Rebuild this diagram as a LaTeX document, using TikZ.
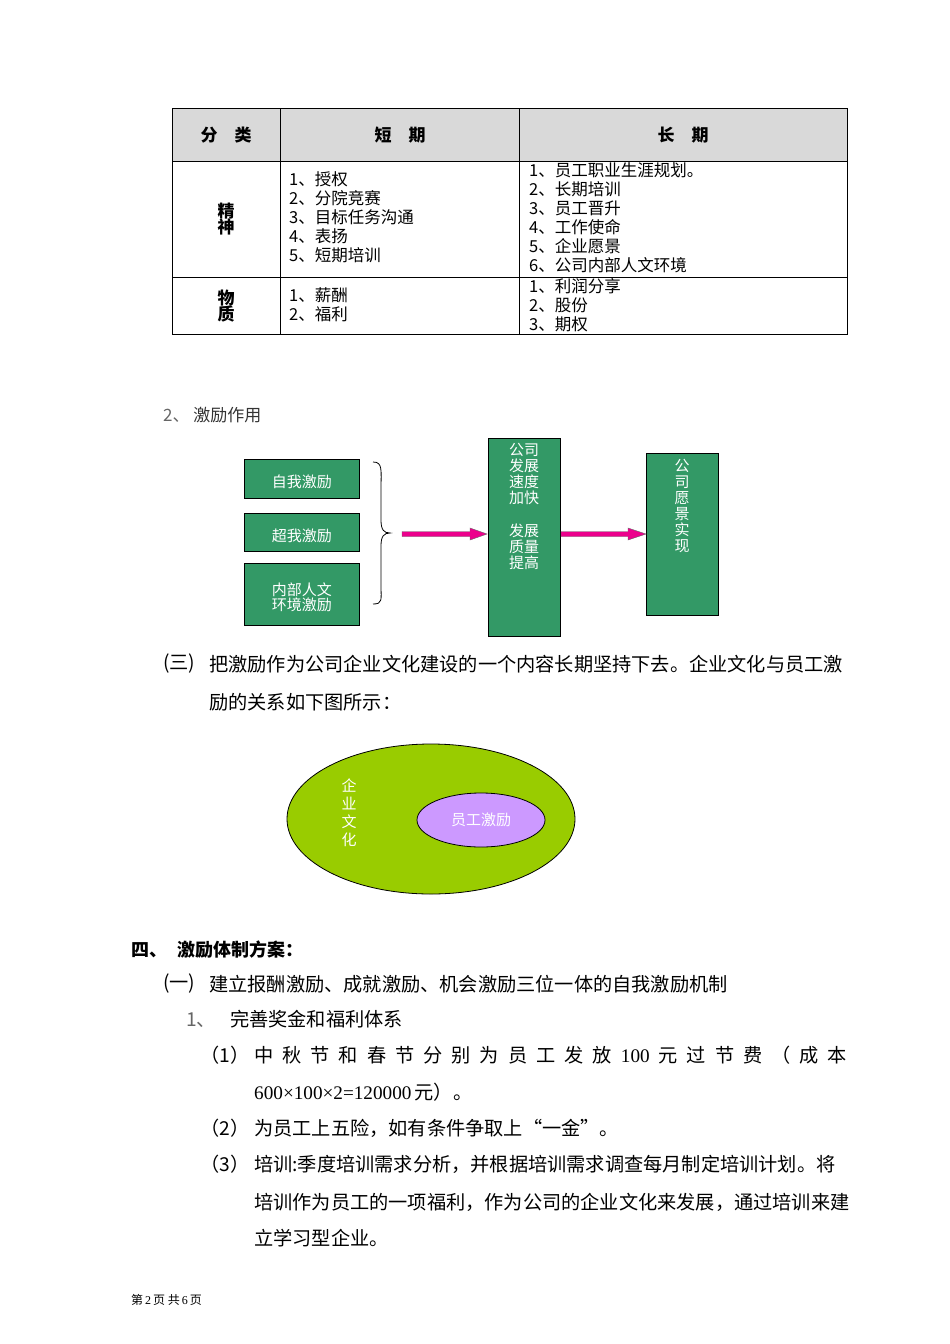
\documentclass[tikz,border=0pt]{standalone}
\usepackage{fontspec}
\setmainfont{Liberation Serif}
\newfontfamily\cjk{Noto Sans CJK SC}
\begin{document}
\begin{tikzpicture}[x=1pt,y=-1pt,
  tt/.style={font=\cjk\fontsize{16.5}{19}\selectfont,anchor=north west,align=left,inner sep=0pt},
  bt/.style={font=\cjk\fontsize{19.2}{22}\selectfont,anchor=west,inner sep=0pt},
  gbox/.style={draw=black,fill=gboxc,line width=0.8pt},
  wt/.style={font=\cjk\fontsize{15}{17}\selectfont,text=white,align=center,inner sep=0pt},
  arr/.style={draw=black!60,fill=magenta,line width=0.4pt}]
\definecolor{gboxc}{HTML}{339966}
\useasboundingbox (0,0) rectangle (950,1344);
% table
\fill[gray!30] (172,108) rectangle (847,161);
\draw[line width=0.6pt] (172,108) rectangle (847,334);
\draw[line width=0.6pt] (172,161) -- (847,161) (172,277) -- (847,277)
  (280,108) -- (280,334) (519,108) -- (519,334);
\node[font=\cjk\bfseries\fontsize{17}{19}\selectfont] (h1) at (226,135) {分\quad 类};
\node[font=\cjk\bfseries\fontsize{17}{19}\selectfont] (h2) at (400,135) {短\quad 期};
\node[font=\cjk\bfseries\fontsize{17}{19}\selectfont] (h3) at (683,135) {长\quad 期};
\node[font=\cjk\bfseries\fontsize{17}{19}\selectfont,align=center] (r1) at (226,219) {精\\[-3pt]神};
\node[font=\cjk\bfseries\fontsize{17}{19}\selectfont,align=center] (r2) at (226,306) {物\\[-3pt]质};
\node[tt] (c1) at (289,171) {1、授权\\2、分院竞赛\\3、目标任务沟通\\4、表扬\\5、短期培训};
\node[tt] (c2) at (529,162.5) {1、员工职业生涯规划。\\2、长期培训\\3、员工晋升\\4、工作使命\\5、企业愿景\\6、公司内部人文环境};
\node[tt] (c3) at (289,287) {1、薪酬\\2、福利};
\node[tt] (c4) at (529,278.5) {1、利润分享\\2、股份\\3、期权};
% section 2
\node[bt,font=\cjk\fontsize{17}{20}\selectfont] (s2) at (163,415) {\textcolor{black!60}{2、} \textcolor{black!80}{激励作用}};
\node[gbox,minimum width=115pt,minimum height=39pt,anchor=north west,inner sep=0pt] (b1) at (244,459) {};
\node[wt] at ([yshift=-3pt]b1.center) {自我激励};
\node[gbox,minimum width=115pt,minimum height=38pt,anchor=north west,inner sep=0pt] (b2) at (244,513) {};
\node[wt] at ([yshift=-3pt]b2.center) {超我激励};
\node[gbox,minimum width=115pt,minimum height=62pt,anchor=north west,inner sep=0pt] (b3) at (244,563) {};
\node[wt] at ([yshift=-3pt]b3.center) {内部人文\\[-2pt]环境激励};
\draw[line width=0.8pt] (373,462) .. controls (383,462) and (381,470) .. (381,490) -- (381,520)
  .. controls (381,530) and (384,533) .. (390,533) .. controls (384,533) and (381,536) .. (381,546)
  -- (381,585) .. controls (381,600) and (383,604) .. (373,604);
\node[gbox,minimum width=72pt,minimum height=198pt,anchor=north west,inner sep=0pt] (b4) at (488,438) {};
\node[wt,anchor=north] at (524,443) {公司\\[-1pt]发展\\[-1pt]速度\\[-1pt]加快\\[16pt]发展\\[-1pt]质量\\[-1pt]提高};
\node[gbox,minimum width=72pt,minimum height=162pt,anchor=north west,inner sep=0pt] (b5) at (646,453) {};
\node[wt,anchor=north] at (682,459) {公\\[-1pt]司\\[-1pt]愿\\[-1pt]景\\[-1pt]实\\[-1pt]现};
\draw[arr] (402,531.5) -- (470,531.5) -- (470,528) -- (487,534) -- (470,540) -- (470,536.5) -- (402,536.5) -- cycle;
\draw[arr] (561,531.5) -- (628,531.5) -- (628,528) -- (646,534) -- (628,540) -- (628,536.5) -- (561,536.5) -- cycle;
% section 三
\node[bt] (p3) at (163,664) {(三)};
\node[bt] (t3) at (209,664) {把激励作为公司企业文化建设的一个内容长期坚持下去。企业文化与员工激};
\node[bt] (t3b) at (209,702) {励的关系如下图所示：};
\draw[fill={rgb,255:red,153;green,204;blue,0},line width=0.8pt] (431,819) ellipse [x radius=144, y radius=75];
\draw[fill={rgb,255:red,204;green,153;blue,255},line width=0.8pt] (481,820) ellipse [x radius=64, y radius=27];
\node[wt] (e1) at (349,813) {企\\[1pt]业\\[1pt]文\\[1pt]化};
\node[wt] (e2) at (481,820) {员工激励};
% section 四
\node[bt,font=\cjk\bfseries\fontsize{18}{22}\selectfont] (s4) at (131,950) {四、\hspace{10pt}激励体制方案：};
\node[bt] (p1) at (163,984) {(一)};
\node[bt] (t1) at (209,984) {建立报酬激励、成就激励、机会激励三位一体的自我激励机制};
\node[bt] (q1) at (186,1019) {\textcolor{black!60}{1、}\hspace{14pt}完善奖金和福利体系};
\node[bt] (n1) at (200,1055) {（1）};
\node[bt,anchor=west] (n1t) at (254,1055) {\makebox[593pt][s]{中\hfill 秋\hfill 节\hfill 和\hfill 春\hfill 节\hfill 分\hfill 别\hfill 为\hfill 员\hfill 工\hfill 发\hfill 放\hfill {\rmfamily 100}\hfill 元\hfill 过\hfill 节\hfill 费\hfill （\hfill 成\hfill 本}};
\node[bt] (n1b) at (254,1092) {{\rmfamily 600×100×2=120000\,}元）。};
\node[bt] (n2) at (200,1128) {（2）};
\node[bt] (n2t) at (254,1128) {为员工上五险，如有条件争取上“一金”。};
\node[bt] (n3) at (200,1164) {（3）};
\node[bt] (n3t) at (254,1164) {培训:季度培训需求分析，并根据培训需求调查每月制定培训计划。将};
\node[bt] (n3b) at (254,1202) {培训作为员工的一项福利，作为公司的企业文化来发展，通过培训来建};
\node[bt] (n3c) at (254,1238) {立学习型企业。};
\node[bt,font=\cjk\fontsize{12}{14}\selectfont] (ft) at (131,1300) {第{\rmfamily\,2\,}页 共{\rmfamily\,6\,}页};
\end{tikzpicture}
\end{document}
